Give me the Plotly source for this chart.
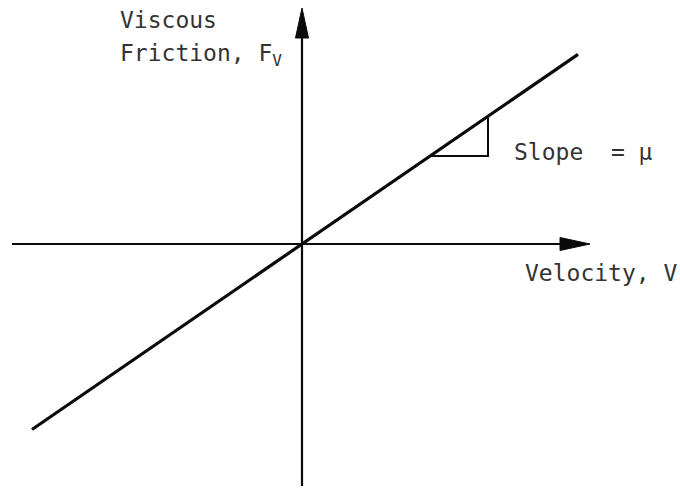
import plotly.graph_objects as go

# Viscous friction model: F_v = mu * V
mu = 0.687
velocity = [-270, 276]          # ends of the drawn characteristic
friction = [mu * v for v in velocity]

# Slope-triangle run (start and end velocity along the line)
tri_v = [128, 186]

# Axis extents (drawing units) and arrowhead geometry
x_axis = [-290, 288]
y_axis = [-242, 236]
head_len, head_half = 30, 6.5

labels = {
    "y_title_1": "Viscous",
    "y_title_2": "Friction, F<sub>V</sub>",
    "x_title": "Velocity, V",
    "slope": "Slope  = \u03bc",
}

FONT = dict(family="DejaVu Sans Mono", size=23, color="#333333")
INK = "#0a0a0a"

fig = go.Figure()

# horizontal axis with arrowhead
fig.add_trace(go.Scatter(x=[x_axis[0], x_axis[1] - head_len + 2], y=[0, 0], mode="lines",
                         line=dict(color=INK, width=2.2), hoverinfo="skip"))
fig.add_trace(go.Scatter(
    x=[x_axis[1] - head_len, x_axis[1], x_axis[1] - head_len, x_axis[1] - head_len],
    y=[head_half, 0, -head_half, head_half],
    mode="lines", fill="toself", fillcolor=INK, line=dict(color=INK, width=1), hoverinfo="skip"))

# vertical axis with arrowhead
fig.add_trace(go.Scatter(x=[0, 0], y=[y_axis[0], y_axis[1] - head_len + 2], mode="lines",
                         line=dict(color=INK, width=2.2), hoverinfo="skip"))
fig.add_trace(go.Scatter(
    x=[-head_half, 0, head_half, -head_half],
    y=[y_axis[1] - head_len, y_axis[1], y_axis[1] - head_len, y_axis[1] - head_len],
    mode="lines", fill="toself", fillcolor=INK, line=dict(color=INK, width=1), hoverinfo="skip"))

# friction characteristic
fig.add_trace(go.Scatter(x=velocity, y=friction, mode="lines",
                         line=dict(color=INK, width=3.2), hoverinfo="skip"))

# slope triangle: run along horizontal, rise up to the line
fig.add_trace(go.Scatter(
    x=[tri_v[0], tri_v[1], tri_v[1]],
    y=[mu * tri_v[0], mu * tri_v[0], mu * tri_v[1]],
    mode="lines", line=dict(color=INK, width=2), hoverinfo="skip"))

ann = [
    (labels["y_title_1"], -184, 224),
    (labels["y_title_2"], -184, 189),
    (labels["slope"], 210, 92),
    (labels["x_title"], 221, -29),
]
for text, x, y in ann:
    fig.add_annotation(x=x, y=y, text=text, showarrow=False, xanchor="left",
                       yanchor="middle", font=FONT)

fig.update_layout(
    width=680, height=491,
    margin=dict(l=0, r=0, t=0, b=0),
    paper_bgcolor="white", plot_bgcolor="white",
    showlegend=False,
    xaxis=dict(range=[-302, 378], visible=False, fixedrange=True),
    yaxis=dict(range=[-247, 244], visible=False, fixedrange=True),
)

fig.write_html("out.html")
